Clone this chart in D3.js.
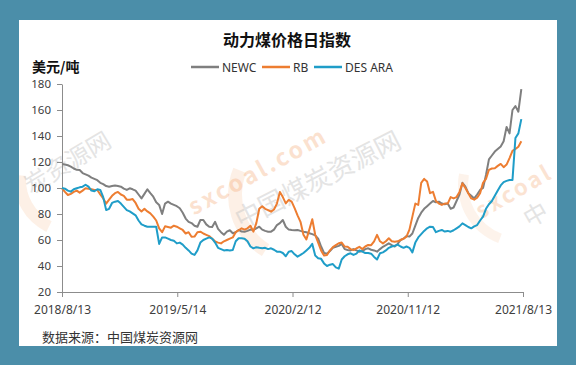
<!DOCTYPE html>
<html><head><meta charset="utf-8">
<script src="https://cdn.jsdelivr.net/npm/d3@7/dist/d3.min.js"></script>
<style>html,body{margin:0;padding:0;background:#4b8ea9;}svg{display:block;}</style>
</head><body>
<script>
const title = "动力煤价格日指数";
const unitLabel = "美元/吨";
const sourceLabel = "数据来源：中国煤炭资源网";
const seriesNames = ["NEWC", "RB", "DES ARA"];
const seriesColors = ["#7f7f7f", "#ed7d31", "#1f9dc8"];
const startDate = "2018-08-13";
const endDate = "2021-08-13";
const xTickLabels = ["2018/8/13", "2019/5/14", "2020/2/12", "2020/11/12", "2021/8/13"];
const yTicks = [20, 40, 60, 80, 100, 120, 140, 160, 180];

// weekly values
const newc = [118.5,118,117.5,116.5,115,114,113.8,111.5,110.5,109.5,
108,107,106,104,103,101.5,101,101.5,102,101.5,
101,99.5,98.5,99.8,99,98,95,92,95.5,99,
96,93.3,89,87,80,88,89.5,88,87,86,
84.4,81,76.5,74,73,71,70.2,75.4,75.4,72,
70.2,70,74,68.5,66,64,66.4,67.5,65.2,66,
67.7,66.5,66.4,67,68,67.7,69,70.2,68,67,
66.4,66.4,68,71.5,73,75.4,70.2,68,67.7,67.5,
67.7,67,66.4,66,65.2,64.5,63.5,61,55,50,
49.5,51.5,54,54.8,55.5,57,53,52.3,52,53,
52,51,51.5,53,53.6,52.5,52,51,53,54.8,
56,57.4,56,55,57,60,61,63,62.6,65,
71,77,81,84,86,88,90,89,89.5,88,
87.5,88,84,85,90,95,104,101,96,94,
92,95,98.5,100,110,122,125,128,130,132,
136,147,142,160,163,158.7,176];
const rb = [99.8,97,94.6,95.5,97,98,96.4,98,99.8,99.5,
99,98.5,98.5,95,92,88,91,94,96,97,
95,94,91,91,91.5,88.5,84,82,84,82,
80.5,78,75,69,66,70.5,70,69.5,71,70.2,
69,67.7,65,66,62.5,62.6,66,66.4,65,64,
63,61,59,58,57.4,59,60,61,62,66,
67.5,69,68,69,71,66.4,73,84,86,84,
83,81.8,83.5,88,97,93,88.2,90.8,89.5,84.5,
79,74,64,60.5,68,76,64,58,52,48,
48.5,52,54.5,56,57.5,58,55,54.8,53,52.3,
53.5,54.8,53,55,56.2,56,59,64,59,57.4,
59,61.3,59,58.7,59,60,61,62.6,68,78,
88,87,104,107,105,96,97,90,88,87,
88,88,93,92,93,97,103.6,100,96,92,
91,92.5,96,104,107,114,115,115.2,117,118.5,
116,118,123,128.5,130,131.8,136];
const desAra = [100,99.5,98,97.2,99,99.8,100.5,101,102.5,101,
98,97.5,99,98.5,93,83,84,88.5,89.5,90,
88,85.5,83,82,80.5,79,75,72,71,70.2,
70.2,70.2,70.2,57,62,62,61,60,59.5,57.4,
58,56.5,54,52,49.5,48.5,52,58,60,61,
62,61,58,54,53,52,52.3,52,52.3,59,
61.3,61.3,61,59,55,53.6,54.5,54,53.6,54,
53,53.6,52.5,51,51,50,47.5,51,51.5,49,
47.2,48.5,50,52,54,57,48,46,45.5,42,
40,41,41.5,39,38,45,47.5,49,49.8,48.5,
49.5,52,51,50,50,49.5,47,45,49.8,50.5,
52,54,55,55.5,56.5,55,54,55,54,50.5,
58,62,64.5,67,69,70.2,70,66,67,67.7,
66.5,67,66.4,67.5,69,70.5,72.8,71.5,70,69,
70.5,71.5,75,78,84,87.5,90,94,98,102,
104.5,105.5,106.2,106.2,138.5,142,153];

const W = 576, H = 365;
const panel = {x: 19, y: 20, w: 538, h: 326};
const m = {left: 62, right: 523, top: 84, bottom: 292};
const parseDash = d3.timeParse("%Y-%m-%d");
const parseSlash = d3.timeParse("%Y/%m/%d");
const t0 = parseDash(startDate);
const dates = newc.map((_, i) => d3.timeDay.offset(t0, 7 * i));

const svg = d3.select("body").append("svg").attr("width", W).attr("height", H);
svg.append("rect").attr("width", W).attr("height", H).attr("fill", "#4b8ea9");
svg.append("rect").attr("x", panel.x).attr("y", panel.y).attr("width", panel.w).attr("height", panel.h).attr("fill", "#ffffff");

svg.append("clipPath").attr("id", "pc").append("rect")
  .attr("x", panel.x).attr("y", panel.y).attr("width", panel.w).attr("height", panel.h);

// watermarks
const wm = svg.append("g").attr("clip-path", "url(#pc)");
const cjk = "'Noto Sans CJK SC', 'Noto Sans', sans-serif";
function arc(cx, cy, r, a0, a1, w, op) {
  wm.append("path")
    .attr("d", d3.arc()({innerRadius: r - w, outerRadius: r, startAngle: a0, endAngle: a1}))
    .attr("transform", `translate(${cx},${cy})`)
    .attr("fill", "#f8c9a6").attr("opacity", op);
}
arc(300, 195, 72, 3.7, 5.1, 14, 0.28);
arc(520, 185, 62, 3.5, 4.9, 10, 0.22);
arc(72, 180, 58, 3.6, 4.8, 12, 0.28);
function wtext(txt, x, y, ang, size, color, op, weight, spacing) {
  wm.append("text").attr("transform", `translate(${x},${y}) rotate(${ang})`)
    .attr("text-anchor", "middle").attr("font-family", cjk)
    .attr("font-size", size).attr("font-weight", weight || "normal")
    .attr("letter-spacing", spacing || 0)
    .attr("fill", color).attr("opacity", op).text(txt);
}
wtext("炭资源网", 72, 170, -31, 24, "#c4c4c4", 0.45);
wtext("sxcoal.com", 262, 178, -29, 23, "#f4a56e", 0.32, "bold", 3);
wtext("中国煤炭资源网", 322, 188, -27, 26, "#c4c4c4", 0.45);
wtext("sxcoal", 518, 198, -30, 22, "#f4a56e", 0.3, "bold", 3);
wtext("中", 540, 222, -30, 24, "#c4c4c4", 0.45);

const x = d3.scaleTime().domain([parseDash(startDate), parseDash(endDate)]).range([m.left, m.right]);
const y = d3.scaleLinear().domain([20, 180]).range([m.bottom, m.top]);

const axisColor = "#8c8c8c";
const tickFont = "'Noto Sans', 'DejaVu Sans', sans-serif";

const yAxis = svg.append("g").attr("transform", `translate(${m.left},0)`)
  .call(d3.axisLeft(y).tickValues(yTicks).tickSize(5).tickPadding(6).tickSizeOuter(0));
yAxis.select(".domain").attr("stroke", axisColor);
yAxis.selectAll(".tick line").attr("stroke", axisColor);
yAxis.selectAll("text").attr("font-family", tickFont).attr("font-size", 11.5).attr("fill", "#404040");

const xAxis = svg.append("g").attr("transform", `translate(0,${m.bottom})`)
  .call(d3.axisBottom(x).tickValues(xTickLabels.map(parseSlash)).tickSize(5).tickPadding(8).tickSizeOuter(0)
    .tickFormat((d, i) => xTickLabels[i]));
xAxis.select(".domain").attr("stroke", axisColor);
xAxis.selectAll(".tick line").attr("stroke", axisColor);
xAxis.selectAll("text").attr("font-family", tickFont).attr("font-size", 12).attr("fill", "#404040");

const line = d3.line().x((d, i) => x(dates[i])).y(d => y(d));
[newc, rb, desAra].forEach((s, k) => {
  svg.append("path").datum(s).attr("d", line)
    .attr("fill", "none").attr("stroke", seriesColors[k])
    .attr("stroke-width", 2).attr("stroke-linejoin", "round");
});

svg.append("text").attr("x", 287).attr("y", 46).attr("text-anchor", "middle")
  .attr("font-family", cjk).attr("font-weight", "bold").attr("font-size", 16)
  .attr("fill", "#111").text(title);
svg.append("text").attr("x", 32).attr("y", 72)
  .attr("font-family", cjk).attr("font-weight", "bold").attr("font-size", 14)
  .attr("fill", "#111").text(unitLabel);

const legendPos = [191, 262, 314];
seriesNames.forEach((n, k) => {
  const lx = legendPos[k];
  svg.append("line").attr("x1", lx).attr("x2", lx + 28).attr("y1", 67).attr("y2", 67)
    .attr("stroke", seriesColors[k]).attr("stroke-width", 2.5);
  svg.append("text").attr("x", lx + 31).attr("y", 71.5)
    .attr("font-family", tickFont).attr("font-size", 12).attr("fill", "#333").text(n);
});

svg.append("text").attr("x", 42).attr("y", 342)
  .attr("font-family", cjk).attr("font-size", 13).attr("fill", "#333").text(sourceLabel);
</script>
</body></html>
